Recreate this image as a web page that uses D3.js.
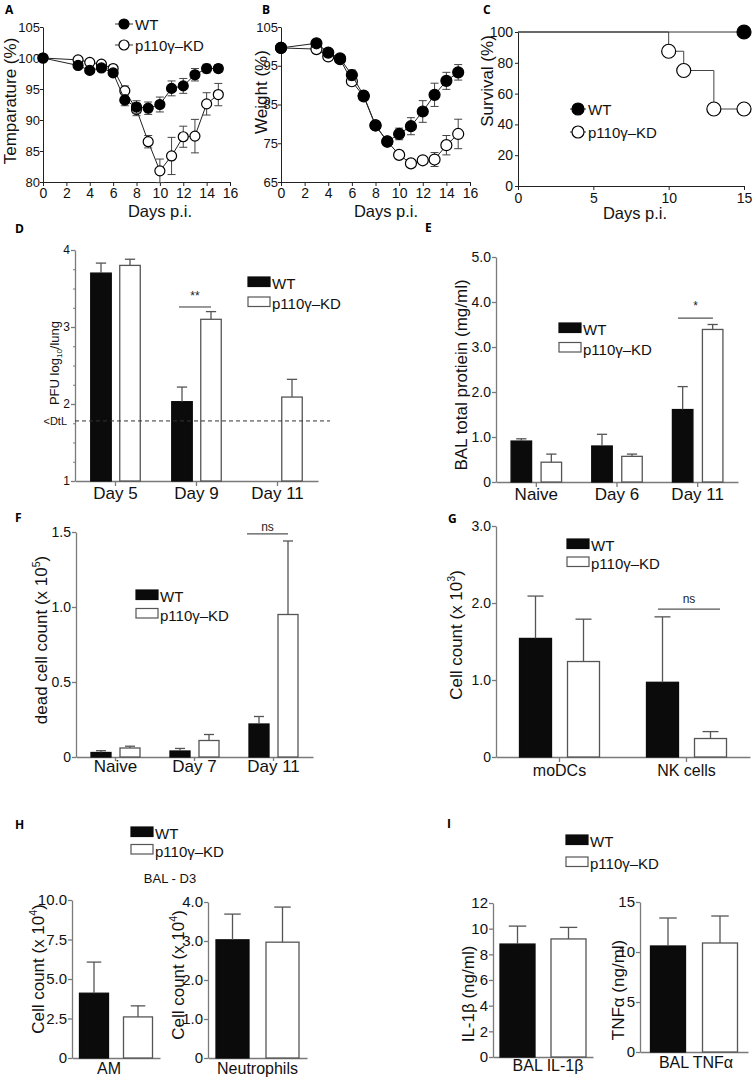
<!DOCTYPE html>
<html><head><meta charset="utf-8">
<script src="https://cdn.jsdelivr.net/npm/d3@7"></script>
<style>
body{margin:0;background:#fff;}
svg{display:block;background:#fff;}
</style></head><body>
<svg id="fig" width="753" height="1077"></svg>
<script>
// ================= DATA =================
const seriesNames = ["WT", "p110γ–KD"];

// A: temperature (%)
const daysPI = [0,3,4,5,6,7,8,9,10,11,12,13,14,15];
const tempWT    = [100,98.8,98.0,98.4,97.6,93.2,92.1,91.9,92.5,95.1,95.5,97.3,98.3,98.3];
const tempWTErr = [0,0.5,0.4,0.5,0.5,0.9,1.0,1.0,1.2,1.2,1.2,1.0,0.7,0.6];
const tempKD    = [100,99.7,99.3,99.0,98.3,94.7,91.7,86.5,81.8,84.2,87.3,87.4,92.6,94.1];
const tempKDErr = [0,0.5,0.3,0.4,0.3,0.8,1.0,1.0,1.9,3.0,1.7,2.7,1.8,1.8];
const tempTicksY = [80,85,90,95,100,105];
const dayTicks = [0,2,4,6,8,10,12,14,16];

// B: weight (%)
const weightWT    = [99.6,100.8,98.4,96.9,92.6,87.3,79.6,75.4,77.4,79.4,83.2,87.5,91.1,93.3];
const weightWTErr = [0,0.5,0.6,1.0,1.3,0.8,0.6,0.8,1.5,2.2,2.8,3.0,2.2,2.0];
const weightKD    = [99.6,99.3,97.4,96.7,91.0,87.1,79.6,75.5,72.0,69.8,70.6,70.8,74.5,77.4];
const weightKDErr = [0,0.4,0.5,0.7,0.8,0.8,0.6,0.6,0.5,0.5,0.5,1.8,2.5,3.8];
const weightTicksY = [65,75,85,95,105];

// C: survival (%)
const survDaysWT = [0,15];
const survWT     = [100,100];
const survDaysKD = [0,10,11,13,15];
const survKD     = [100,87.5,75,50,50];
const survTicksY = [0,20,40,60,80,100];
const survTicksX = [0,5,10,15];

// D: PFU log10/lung
const pfuDays   = ["Day 5","Day 9","Day 11"];
const pfuWT     = [3.70,2.03,null];
const pfuWTErr  = [0.13,0.19,null];
const pfuKD     = [3.80,3.10,2.09];
const pfuKDErr  = [0.08,0.10,0.23];
const pfuTicks  = [1,2,3,4];
const pfuDetectionLimit = 1.78;

// E: BAL total protein (mg/ml)
const balDays  = ["Naive","Day 6","Day 11"];
const balWT    = [0.91,0.80,1.61];
const balWTErr = [0.05,0.26,0.51];
const balKD    = [0.44,0.57,3.39];
const balKDErr = [0.18,0.05,0.11];
const balTicks = [0,1,2,3,4,5];

// F: dead cell count (x10^5)
const deadDays  = ["Naive","Day 7","Day 11"];
const deadWT    = [0.03,0.04,0.22];
const deadWTErr = [0.012,0.017,0.05];
const deadKD    = [0.06,0.11,0.95];
const deadKDErr = [0.012,0.04,0.49];
const deadTicks = [0,0.5,1.0,1.5];

// G: cell count (x10^3)
const cellTypes  = ["moDCs","NK cells"];
const cellWT     = [1.54,0.97];
const cellWTErr  = [0.55,0.85];
const cellKD     = [1.24,0.24];
const cellKDErr  = [0.55,0.09];
const cellTicks  = [0,1,2,3];

// H: BAL - D3 cell counts (x10^4)
const amGroup   = ["AM"];
const amWT = [4.1],  amWTErr = [1.97];
const amKD = [2.6],  amKDErr = [0.7];
const amTicks = [0,2.5,5,7.5,10];
const neuGroup  = ["Neutrophils"];
const neuWT = [3.03], neuWTErr = [0.66];
const neuKD = [2.97], neuKDErr = [0.9];
const neuTicks = [0,1,2,3,4];

// I: cytokines (ng/ml)
const il1bGroup = ["BAL IL-1β"];
const il1bWT = [8.8],  il1bWTErr = [1.4];
const il1bKD = [9.2],  il1bKDErr = [0.9];
const il1bTicks = [0,2,4,6,8,10,12];
const tnfGroup = ["BAL TNFα"];
const tnfWT = [10.6], tnfWTErr = [2.8];
const tnfKD = [10.9], tnfKDErr = [2.7];
const tnfTicks = [0,5,10,15];

// ================= DRAWING =================
const FONT = "'Liberation Sans', Arial, Helvetica, sans-serif";
const svg = d3.select("#fig").attr("font-family", FONT);

function panelLetter(t, x, y) {
  svg.append("text").attr("x", x).attr("y", y).attr("font-weight", "bold")
    .attr("font-size", 12).attr("font-family", "'Open Sans','DejaVu Sans',sans-serif").text(t);
}

function yLabel(parts, x, y, fs) {
  const t = svg.append("text").attr("transform", `translate(${x},${y}) rotate(-90)`)
    .attr("text-anchor", "middle").attr("font-size", fs).attr("fill", "#111");
  let shift = 0;
  parts.forEach(p => {
    const ts = t.append("tspan").text(p.t);
    if (p.sup) { const tgt = -fs * 0.42; ts.attr("font-size", fs * 0.62).attr("dy", tgt - shift); shift = tgt; }
    else if (p.sub) { const tgt = fs * 0.25; ts.attr("font-size", fs * 0.62).attr("dy", tgt - shift); shift = tgt; }
    else if (shift !== 0) { ts.attr("dy", -shift); shift = 0; }
  });
}

function styleAxis(sel, fs, color, sw) {
  sel.attr("font-family", FONT).attr("font-size", fs);
  sel.selectAll("path.domain").attr("stroke", color).attr("stroke-width", sw);
  sel.selectAll(".tick line").attr("stroke", color).attr("stroke-width", sw);
  sel.selectAll(".tick text").attr("fill", "#111");
}

// ---------- line / survival panels ----------
function linePanel(c) {
  const x = d3.scaleLinear().domain(c.xDomain).range([c.x0, c.x1]);
  const y = d3.scaleLinear().domain(c.yDomain).range([c.yB, c.yT]);
  const g = svg.append("g");
  const ax = g.append("g").attr("transform", `translate(0,${c.yB})`)
    .call(d3.axisBottom(x).tickValues(c.xTicks).tickSize(4).tickSizeOuter(0).tickPadding(c.xPad));
  styleAxis(ax, c.xFs, "#222", 1);
  const ay = g.append("g").attr("transform", `translate(${c.x0},0)`)
    .call(d3.axisLeft(y).tickValues(c.yTicks).tickSize(3).tickSizeOuter(0).tickPadding(c.yPad));
  styleAxis(ay, c.yFs, "#222", 1);
  c.series.forEach(s => {
    const pts = s.x.map((d, i) => ({ x: d, y: s.y[i], e: s.e ? s.e[i] : 0, m: s.markers ? s.markers.includes(i) : true }));
    const line = d3.line().x(d => x(d.x)).y(d => y(d.y));
    if (s.step) line.curve(d3.curveStepAfter);
    g.append("path").datum(pts).attr("d", line).attr("fill", "none").attr("stroke", s.lineColor || "#222").attr("stroke-width", 1);
    pts.filter(d => d.e > 0).forEach(d => {
      const cx = x(d.x), y1 = y(d.y - d.e), y2 = y(d.y + d.e);
      g.append("line").attr("x1", cx).attr("x2", cx).attr("y1", y1).attr("y2", y2).attr("stroke", "#444").attr("stroke-width", 1);
      [y1, y2].forEach(yy => g.append("line").attr("x1", cx - 4).attr("x2", cx + 4).attr("y1", yy).attr("y2", yy).attr("stroke", "#444").attr("stroke-width", 1));
    });
    g.selectAll(null).data(pts.filter(d => d.m)).enter().append("circle")
      .attr("cx", d => x(d.x)).attr("cy", d => y(d.y)).attr("r", c.r)
      .attr("fill", s.filled ? "#000" : "#fff").attr("stroke", "#000").attr("stroke-width", 1.2);
  });
  svg.append("text").attr("x", c.titleX).attr("y", c.titleY).attr("text-anchor", "middle")
    .attr("font-size", 16.5).attr("fill", "#111").text("Days p.i.");
  if (c.legend) {
    c.legend.items.forEach((it, i) => {
      const cy = c.legend.y + i * c.legend.dy;
      svg.append("line").attr("x1", c.legend.x - c.legend.half).attr("x2", c.legend.x + c.legend.half)
        .attr("y1", cy).attr("y2", cy).attr("stroke", "#333").attr("stroke-width", 1);
      svg.append("circle").attr("cx", c.legend.x).attr("cy", cy).attr("r", c.legend.r)
        .attr("fill", it.filled ? "#000" : "#fff").attr("stroke", "#000").attr("stroke-width", 1.2);
      svg.append("text").attr("x", c.legend.x + c.legend.half + 2).attr("y", cy + 5.5)
        .attr("font-size", 15).attr("fill", "#111").text(it.name);
    });
  }
}

// ---------- bar panels ----------
function barPanel(c) {
  const g = svg.append("g");
  const xb = d3.scaleBand().domain(c.groups).range(c.xRange);
  const y = d3.scaleLinear().domain(c.domain).range([c.yB, c.yT]);
  const AX = "#7a7a7a";
  const ya = g.append("g").attr("transform", `translate(${c.xRange[0]},0)`)
    .call(d3.axisLeft(y).tickValues(c.ticks).tickFormat(c.fmt).tickSize(4).tickSizeOuter(0).tickPadding(1));
  styleAxis(ya, c.tickFs, AX, 1.3);
  if (c.minor) {
    const ym = g.append("g").attr("transform", `translate(${c.xRange[0]},0)`)
      .call(d3.axisLeft(y).tickValues(c.minor).tickSize(2).tickFormat(""));
    ym.select("path.domain").remove();
    ym.selectAll(".tick line").attr("stroke", AX);
  }
  const xa = g.append("g").attr("transform", `translate(0,${c.yB})`)
    .call(d3.axisBottom(xb).tickSize(c.xTick).tickSizeOuter(0).tickPadding(c.labelGap - c.xTick));
  styleAxis(xa, c.catFs, AX, 1.3);
  if (c.labelDx) xa.selectAll(".tick text").attr("dx", c.labelDx);
  const base = c.domain[0];
  const series = [
    { v: c.wt, e: c.wtErr, off: -c.off, fill: "#0b0b0b", stroke: "#0b0b0b" },
    { v: c.kd, e: c.kdErr, off: c.off, fill: "#fff", stroke: "#555" }
  ];
  series.forEach(s => {
    c.groups.forEach((grp, i) => {
      if (s.v[i] == null) return;
      const cx = xb(grp) + xb.bandwidth() / 2 + s.off;
      const top = y(s.v[i]);
      g.append("rect").attr("x", cx - c.barW / 2).attr("y", top).attr("width", c.barW)
        .attr("height", y(base) - top).attr("fill", s.fill).attr("stroke", s.stroke).attr("stroke-width", 1.3);
      const et = y(s.v[i] + s.e[i]);
      g.append("line").attr("x1", cx).attr("x2", cx).attr("y1", top).attr("y2", et).attr("stroke", "#555").attr("stroke-width", 1.3);
      g.append("line").attr("x1", cx - c.barW / 4).attr("x2", cx + c.barW / 4).attr("y1", et).attr("y2", et).attr("stroke", "#555").attr("stroke-width", 1.3);
    });
  });
  if (c.sig) {
    const gc = xb(c.sig.group) + xb.bandwidth() / 2;
    const ly = y(c.sig.y);
    g.append("line").attr("x1", gc + c.sig.x[0]).attr("x2", gc + c.sig.x[1]).attr("y1", ly).attr("y2", ly)
      .attr("stroke", "#555").attr("stroke-width", 1.2);
    g.append("text").attr("x", gc + (c.sig.x[0] + c.sig.x[1]) / 2).attr("y", ly - c.sig.gap)
      .attr("text-anchor", "middle").attr("font-size", 12).attr("fill", "#222").text(c.sig.label);
  }
  if (c.legend) legendBars(c.legend.x, c.legend.y, c.legend.dy);
  if (c.ylabel) yLabel(c.ylabel, c.ylx, c.lyc, c.ylFs || 17);
  return { x: xb, y };
}

function legendBars(x, y, dy) {
  seriesNames.forEach((n, i) => {
    svg.append("rect").attr("x", x).attr("y", y + i * dy).attr("width", 22).attr("height", 9.5)
      .attr("fill", i === 0 ? "#0b0b0b" : "#fff").attr("stroke", i === 0 ? "#0b0b0b" : "#555").attr("stroke-width", 1.2);
    svg.append("text").attr("x", x + 24).attr("y", y + i * dy + 12).attr("font-size", 15).attr("fill", "#111").text(n);
  });
}

const fmt1 = d => d === 0 ? "0" : d3.format(".1f")(d);
const fmtInt = d => String(d);

// ===== Panel A =====
panelLetter("A", 5, 14);
linePanel({
  xDomain: [0, 16], x0: 43, x1: 230, yDomain: [80, 105], yB: 182, yT: 27,
  xTicks: dayTicks, yTicks: tempTicksY, xFs: 14, yFs: 13, xPad: 2, yPad: 0, r: 5,
  titleX: 160, titleY: 217,
  series: [
    { x: daysPI, y: tempKD, e: tempKDErr, filled: false },
    { x: daysPI, y: tempWT, e: tempWTErr, filled: true }
  ],
  legend: { x: 124, y: 24, dy: 21, half: 9, r: 5, items: [{ name: seriesNames[0], filled: true }, { name: seriesNames[1], filled: false }] }
});
yLabel([{ t: "Temparature (%)" }], 16, 101, 17);

// ===== Panel B =====
panelLetter("B", 262, 14);
linePanel({
  xDomain: [0, 16], x0: 281, x1: 470, yDomain: [65, 105], yB: 182, yT: 27,
  xTicks: dayTicks, yTicks: weightTicksY, xFs: 14, yFs: 13, xPad: 2, yPad: 0, r: 5.5,
  titleX: 386, titleY: 217,
  series: [
    { x: daysPI, y: weightKD, e: weightKDErr, filled: false },
    { x: daysPI, y: weightWT, e: weightWTErr, filled: true }
  ]
});
yLabel([{ t: "Weight (%)" }], 267, 92, 17);

// ===== Panel C =====
panelLetter("C", 483, 14);
linePanel({
  xDomain: [0, 15], x0: 518, x1: 744, yDomain: [0, 100], yB: 186, yT: 32,
  xTicks: survTicksX, yTicks: survTicksY, xFs: 14, yFs: 14, xPad: 3, yPad: 2, r: 7,
  titleX: 635, titleY: 219,
  series: [
    { x: survDaysKD, y: survKD, filled: false, step: true, markers: [1, 2, 3, 4], lineColor: "#444" },
    { x: survDaysWT, y: survWT, filled: true, markers: [1], lineColor: "#333" }
  ],
  legend: { x: 578, y: 109, dy: 23, half: 8, r: 6, items: [{ name: seriesNames[0], filled: true }, { name: seriesNames[1], filled: false }] }
});
yLabel([{ t: "Survival (%)" }], 493, 81, 17);

// ===== Panel D =====
panelLetter("D", 15, 233);
const pD = barPanel({
  groups: pfuDays, xRange: [75, 318], domain: [1, 4], yB: 481, yT: 250,
  ticks: pfuTicks, fmt: fmtInt, tickFs: 12, minor: d3.range(1.25, 4, 0.25).filter(v => v % 1 !== 0),
  xTick: 5, labelGap: 6, catFs: 17,
  wt: pfuWT, wtErr: pfuWTErr, kd: pfuKD, kdErr: pfuKDErr, barW: 20.5, off: 14.5,
  sig: { group: "Day 9", y: 3.26, x: [-17.5, 14.5], gap: 7, label: "**" },
  legend: { x: 248, y: 277, dy: 20 },
  ylabel: [{ t: "PFU log" }, { t: "10", sub: true }, { t: "/lung" }], ylx: 59, lyc: 363, ylFs: 13
});
svg.append("line").attr("x1", 75).attr("x2", 330)
  .attr("y1", pD.y(pfuDetectionLimit)).attr("y2", pD.y(pfuDetectionLimit))
  .attr("stroke", "#333").attr("stroke-width", 1).attr("stroke-dasharray", "4,3");
svg.append("text").attr("x", 67).attr("y", pD.y(pfuDetectionLimit)).attr("dy", "0.35em")
  .attr("text-anchor", "end").attr("font-size", 11).attr("fill", "#111").text("<DtL");

// ===== Panel E =====
panelLetter("E", 425, 232);
barPanel({
  groups: balDays, xRange: [496, 738], domain: [0, 5], yB: 482, yT: 257,
  ticks: balTicks, fmt: fmt1, tickFs: 14, xTick: 5, labelGap: 6, catFs: 17,
  wt: balWT, wtErr: balWTErr, kd: balKD, kdErr: balKDErr, barW: 20.5, off: 15,
  sig: { group: "Day 11", y: 3.64, x: [-19.7, 15.3], gap: 8, label: "*" },
  legend: { x: 559, y: 323, dy: 19.5 },
  ylabel: [{ t: "BAL total protiein (mg/ml)" }], ylx: 467, lyc: 375, ylFs: 17
});

// ===== Panel F =====
panelLetter("F", 15, 522);
barPanel({
  groups: deadDays, xRange: [76, 313], domain: [0, 1.5], yB: 757, yT: 532,
  ticks: deadTicks, fmt: fmt1, tickFs: 14, xTick: 4, labelGap: 3, catFs: 17,
  wt: deadWT, wtErr: deadWTErr, kd: deadKD, kdErr: deadKDErr, barW: 20, off: 14.5,
  sig: { group: "Day 11", y: 1.487, x: [-26.5, 14.5], gap: 3, label: "ns" },
  legend: { x: 136, y: 590, dy: 18.5 },
  ylabel: [{ t: "dead cell count (x 10" }, { t: "5", sup: true }, { t: ")" }], ylx: 47, lyc: 640, ylFs: 17
});

// ===== Panel G =====
panelLetter("G", 448, 523);
barPanel({
  groups: cellTypes, xRange: [496, 750], domain: [0, 3], yB: 757, yT: 526,
  ticks: cellTicks, fmt: fmt1, tickFs: 14, xTick: 5, labelGap: 8, catFs: 16,
  wt: cellWT, wtErr: cellWTErr, kd: cellKD, kdErr: cellKDErr, barW: 32, off: 24,
  sig: { group: "NK cells", y: 1.92, x: [-28.5, 33.5], gap: 6, label: "ns" },
  legend: { x: 567, y: 539, dy: 18 },
  ylabel: [{ t: "Cell count (x 10" }, { t: "3", sup: true }, { t: ")" }], ylx: 462, lyc: 635, ylFs: 17
});

// ===== Panel H =====
panelLetter("H", 15, 829);
legendBars(131, 827, 17.5);
svg.append("text").attr("x", 170).attr("y", 883).attr("text-anchor", "middle")
  .attr("font-size", 13).attr("fill", "#111").text("BAL - D3");
barPanel({
  groups: amGroup, xRange: [72, 160], domain: [0, 10], yB: 1058, yT: 900,
  ticks: amTicks, fmt: fmt1, tickFs: 15, xTick: 0, labelGap: 5, catFs: 16, labelDx: -7,
  wt: amWT, wtErr: amWTErr, kd: amKD, kdErr: amKDErr, barW: 29, off: 22,
  ylabel: [{ t: "Cell count (x 10" }, { t: "4", sup: true }, { t: ")" }], ylx: 44, lyc: 969, ylFs: 17
});
barPanel({
  groups: neuGroup, xRange: [208, 307], domain: [0, 4], yB: 1058, yT: 902,
  ticks: neuTicks, fmt: fmt1, tickFs: 15, xTick: 0, labelGap: 5, catFs: 16,
  wt: neuWT, wtErr: neuWTErr, kd: neuKD, kdErr: neuKDErr, barW: 33, off: 25,
  ylabel: [{ t: "Cell count (x 10" }, { t: "4", sup: true }, { t: ")" }], ylx: 184, lyc: 975, ylFs: 17
});

// ===== Panel I =====
panelLetter("I", 447, 828);
legendBars(566, 835, 22);
barPanel({
  groups: il1bGroup, xRange: [493, 593], domain: [0, 12], yB: 1057, yT: 903,
  ticks: il1bTicks, fmt: fmtInt, tickFs: 15, xTick: 0, labelGap: 3, catFs: 16, labelDx: 5,
  wt: il1bWT, wtErr: il1bWTErr, kd: il1bKD, kdErr: il1bKDErr, barW: 35, off: 25.5,
  ylabel: [{ t: "IL-1β (ng/ml)" }], ylx: 474, lyc: 994, ylFs: 17
});
barPanel({
  groups: tnfGroup, xRange: [640, 748], domain: [0, 15], yB: 1052, yT: 902,
  ticks: tnfTicks, fmt: fmtInt, tickFs: 15, xTick: 0, labelGap: 5, catFs: 16, labelDx: 2,
  wt: tnfWT, wtErr: tnfWTErr, kd: tnfKD, kdErr: tnfKDErr, barW: 35, off: 26,
  ylabel: [{ t: "TNFα (ng/ml)" }], ylx: 624, lyc: 990, ylFs: 17
});
</script>
</body></html>
